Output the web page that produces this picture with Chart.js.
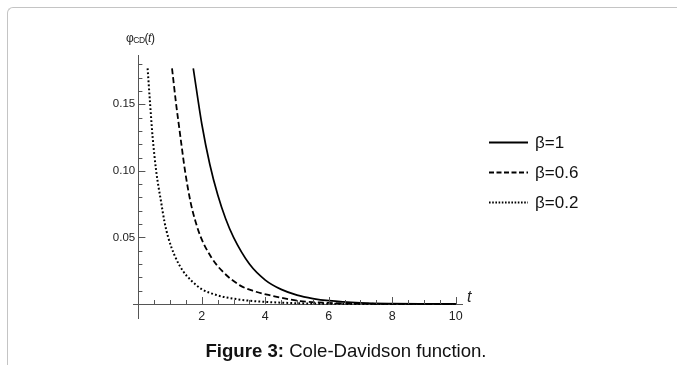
<!DOCTYPE html>
<html>
<head>
<meta charset="utf-8">
<script src="https://cdn.jsdelivr.net/npm/chart.js@4.4.1/dist/chart.umd.min.js"></script>
<style>
  html, body { margin: 0; padding: 0; background: #fff; }
  #wrap { position: relative; width: 677px; height: 365px; overflow: hidden; }
  #frame { position: absolute; left: 7px; top: 7px; width: 700px; height: 370px;
           border-left: 1px solid #c4c4c4; border-top: 1px solid #c4c4c4; border-top-left-radius: 6px; }
  canvas { position: absolute; left: 0; top: 0; }
  #ylab { position: absolute; left: 126px; top: 31px; font: 12px "Liberation Sans", sans-serif; color: #222; white-space: nowrap; letter-spacing: -0.5px; }
  #ylab sub { font-size: 8.5px; vertical-align: -1px; }
  #xlab { position: absolute; left: 467px; top: 288px; font: italic 16px "Liberation Sans", sans-serif; color: #222; }
  #caption { position: absolute; left: 0; width: 692px; top: 340px; text-align: center;
             font: 18.6px "Liberation Sans", Arial, sans-serif; color: #111; white-space: nowrap; }
</style>
</head>
<body>
<div id="wrap">
  <div id="frame"></div>
  <canvas id="c" width="677" height="365"></canvas>
  <div id="ylab">φ<sub>CD</sub>(<i>t</i>)</div>
  <div id="xlab">t</div>
  <div id="caption"><b>Figure 3:</b> Cole-Davidson function.</div>
</div>
<script>
// Series labels
const seriesLabels = ['β=1', 'β=0.6', 'β=0.2'];

// β = 1 (solid)
const tBeta1 = [1.73, 2.0, 2.25, 2.5, 2.75, 3.0, 3.5, 4.0, 4.5, 5.0, 5.5, 6.0, 7.0, 8.0, 9.0, 10.0];
const vBeta1 = [0.177, 0.135, 0.105, 0.082, 0.064, 0.050, 0.030, 0.018, 0.011, 0.0067, 0.0041, 0.0025, 0.0009, 0.0003, 0.0001, 0.00005];

// β = 0.6 (dashed)
const tBeta06 = [1.06, 1.19, 1.30, 1.47, 1.64, 1.80, 1.97, 2.3, 2.63, 3.2, 3.6, 4.1, 4.6, 5.1, 6.0, 7.0, 8.0, 10.0];
const vBeta06 = [0.177, 0.150, 0.130, 0.100, 0.077, 0.062, 0.050, 0.035, 0.025, 0.014, 0.010, 0.0068, 0.0042, 0.0022, 0.0008, 0.0003, 0.0001, 0.0];

// β = 0.2 (dotted)
const tBeta02 = [0.29, 0.37, 0.45, 0.56, 0.72, 0.82, 0.94, 1.15, 1.40, 1.65, 1.98, 2.5, 3.03, 3.5, 4.08, 5.0, 6.0, 8.0, 10.0];
const vBeta02 = [0.177, 0.150, 0.125, 0.100, 0.076, 0.062, 0.050, 0.036, 0.025, 0.018, 0.0114, 0.0065, 0.0039, 0.0025, 0.0015, 0.0006, 0.0002, 0.0, 0.0];

// Axis tick values
const xMajorTicks = [2, 4, 6, 8, 10];
const yMajorTicks = [0.05, 0.10, 0.15];

const toPts = (ts, vs) => ts.map((t, i) => ({ x: t, y: vs[i] }));

const tickPlugin = {
  id: 'inwardTicks',
  afterDraw(chart) {
    const ctx = chart.ctx;
    const xs = chart.scales.x, ys = chart.scales.y;
    const x0 = xs.getPixelForValue(0), y0 = ys.getPixelForValue(0);
    ctx.save();
    ctx.strokeStyle = '#555';
    ctx.lineWidth = 1;
    ctx.beginPath();
    for (let k = 1; k <= 20; k++) {
      const v = k * 0.5;
      const len = xMajorTicks.includes(v) ? 7 : 4;
      const px = Math.round(xs.getPixelForValue(v)) + 0.5;
      ctx.moveTo(px, y0); ctx.lineTo(px, y0 - len);
    }
    for (let k = 1; k <= 18; k++) {
      const v = k * 0.01;
      const len = (k % 5 === 0) ? 7 : 4;
      const py = Math.round(ys.getPixelForValue(v)) + 0.5;
      ctx.moveTo(x0, py); ctx.lineTo(x0 + len, py);
    }
    ctx.stroke();
    ctx.restore();
  }
};

const legendPlugin = {
  id: 'sideLegend',
  afterDraw(chart) {
    const ctx = chart.ctx;
    const ys = [142, 172, 202];
    ctx.save();
    chart.data.datasets.forEach((ds, i) => {
      const y = ys[i] + 0.5;
      ctx.strokeStyle = '#000';
      ctx.lineWidth = 2.2;
      ctx.setLineDash(ds.legendDash || []);
      ctx.beginPath();
      ctx.moveTo(489, y); ctx.lineTo(528, y);
      ctx.stroke();
      ctx.setLineDash([]);
      ctx.fillStyle = '#111';
      ctx.font = '17px "Liberation Sans", sans-serif';
      ctx.textBaseline = 'middle';
      ctx.textAlign = 'left';
      ctx.fillText(ds.label, 535, ys[i] + 1);
    });
    ctx.restore();
  }
};

new Chart(document.getElementById('c'), {
  type: 'line',
  data: {
    datasets: [
      { label: seriesLabels[0], data: toPts(tBeta1, vBeta1), borderColor: '#000', borderWidth: 1.7,
        pointRadius: 0, cubicInterpolationMode: 'monotone', fill: false, legendDash: [] },
      { label: seriesLabels[1], data: toPts(tBeta06, vBeta06), borderColor: '#000', borderWidth: 1.8,
        borderDash: [6, 3], pointRadius: 0, cubicInterpolationMode: 'monotone', fill: false, legendDash: [5, 2.5] },
      { label: seriesLabels[2], data: toPts(tBeta02, vBeta02), borderColor: '#000', borderWidth: 2,
        borderDash: [1.8, 2.2], pointRadius: 0, cubicInterpolationMode: 'monotone', fill: false, legendDash: [1.6, 1.6] }
    ]
  },
  options: {
    responsive: false,
    animation: false,
    events: [],
    layout: { padding: { left: 133, top: 55, right: 215, bottom: 47 } },
    plugins: { legend: { display: false }, tooltip: { enabled: false } },
    scales: {
      x: {
        type: 'linear', min: -0.17, max: 10.2,
        position: { y: 0 },
        grid: { display: true, drawOnChartArea: false, drawTicks: false },
        border: { display: true, color: '#555', width: 1 },
        afterBuildTicks: (s) => { s.ticks = xMajorTicks.map(v => ({ value: v })); },
        ticks: { padding: 5, color: '#222', font: { family: '"Liberation Sans", sans-serif', size: 12.5 },
                 maxRotation: 0, autoSkip: false, callback: (v) => String(v) }
      },
      y: {
        type: 'linear', min: -0.0105, max: 0.187,
        position: { x: 0 },
        grid: { display: true, drawOnChartArea: false, drawTicks: false },
        border: { display: true, color: '#555', width: 1 },
        afterBuildTicks: (s) => { s.ticks = yMajorTicks.map(v => ({ value: v })); },
        ticks: { padding: 3, color: '#222', font: { family: '"Liberation Sans", sans-serif', size: 11.5 },
                 autoSkip: false, callback: (v) => Number(v).toFixed(2) + ' ' }
      }
    }
  },
  plugins: [tickPlugin, legendPlugin]
});
</script>
</body>
</html>
